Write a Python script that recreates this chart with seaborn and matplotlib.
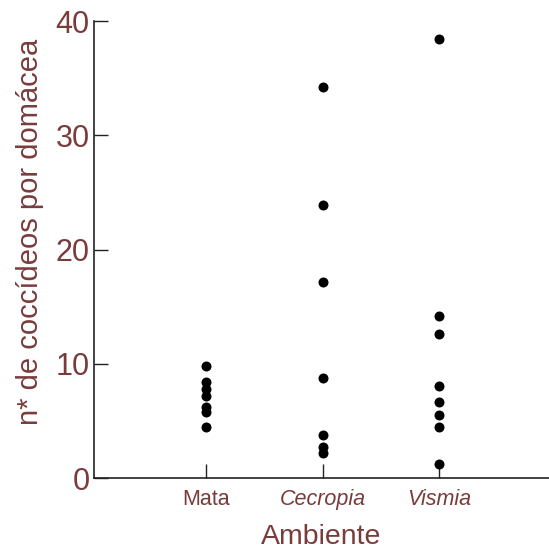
import pandas as pd
import seaborn as sns
import matplotlib.pyplot as plt

# 데이터
mata = [9.8, 8.4, 7.8, 7.2, 6.2, 5.8, 4.5]
cecropia = [34.2, 23.9, 17.2, 8.8, 3.8, 2.7, 2.2]
vismia = [38.4, 14.2, 12.6, 8.1, 6.7, 5.5, 4.5, 1.2]
ambientes = ['Mata', 'Cecropia', 'Vismia']
yticks = [0, 10, 20, 30, 40]

df = pd.DataFrame({
    'Ambiente': ['Mata'] * len(mata) + ['Cecropia'] * len(cecropia) + ['Vismia'] * len(vismia),
    'n': mata + cecropia + vismia,
})

sns.set_style('ticks')
plt.rcParams['font.family'] = ['Liberation Sans', 'DejaVu Sans']
text_color = '#7a3b3b'

fig = plt.figure(figsize=(5.49, 5.54), dpi=100)
ax = fig.add_axes([0.171, 0.137, 0.829, 0.825])

sns.stripplot(data=df, x='Ambiente', y='n', order=ambientes, jitter=False,
              color='black', size=7.2, linewidth=0, ax=ax)

ax.set_xlim(-0.96, 2.94)
ax.set_ylim(0, 40)
ax.set_yticks(yticks)
ax.tick_params(axis='both', direction='in', length=10, width=1, colors='#222222')
ax.tick_params(axis='y', labelsize=22, labelcolor=text_color, pad=3)
ax.tick_params(axis='x', labelsize=15.5, labelcolor=text_color, pad=8)
for lbl in ax.get_xticklabels():
    if lbl.get_text() in ('Cecropia', 'Vismia'):
        lbl.set_fontstyle('italic')

ax.set_xlabel('Ambiente', fontsize=20.5, color=text_color)
ax.xaxis.set_label_coords(0.5, -0.1)
ax.set_ylabel('n* de coccídeos por domácea', fontsize=21, color=text_color)
ax.yaxis.set_label_coords(-0.11, 0.538)

sns.despine(ax=ax)
for s in ('left', 'bottom'):
    ax.spines[s].set_color('#222222')
    ax.spines[s].set_linewidth(1.2)

fig.savefig('out.png', dpi=100)
